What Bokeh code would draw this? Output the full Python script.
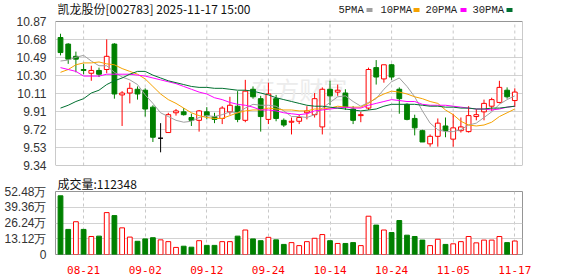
from bokeh.plotting import figure
from bokeh.layouts import column
from bokeh.models import Range1d, FixedTicker, Label, ColumnDataSource, Title, BoxAnnotation
from bokeh.core.properties import value
from bokeh.embed import file_html
from bokeh.resources import INLINE

# ---------------- data ----------------
dates = ["08-18", "08-19", "08-20", "08-21", "08-22", "08-25", "08-26", "08-27", "08-28", "08-29",
         "09-01", "09-02", "09-03", "09-04", "09-05", "09-08", "09-09", "09-10", "09-11", "09-12",
         "09-15", "09-16", "09-17", "09-18", "09-19", "09-22", "09-23", "09-24", "09-25", "09-26",
         "09-29", "09-30", "10-09", "10-10", "10-13", "10-14", "10-15", "10-16", "10-17", "10-20",
         "10-21", "10-22", "10-23", "10-24", "10-27", "10-28", "10-29", "10-30", "10-31", "11-03",
         "11-04", "11-05", "11-06", "11-07", "11-10", "11-11", "11-12", "11-13", "11-14", "11-17"]

opens = [10.70, 10.63, 10.50, 10.36, 10.32, 10.35, 10.36, 10.63, 10.09, 10.11,
         10.15, 10.14, 9.96, 9.63, 9.69, 9.90, 9.91, 9.85, 9.82, 9.91,
         9.86, 9.84, 9.91, 9.97, 9.82, 10.15, 10.05, 9.83, 10.05, 9.82,
         9.80, 9.81, 9.90, 9.88, 9.75, 10.15, 10.12, 10.11, 9.94, 9.87,
         9.95, 10.38, 10.26, 10.41, 10.15, 9.99, 9.84, 9.71, 9.57, 9.65,
         9.76, 9.62, 9.71, 9.70, 9.86, 9.91, 9.97, 10.01, 10.14, 10.03]
highs = [10.74, 10.64, 10.55, 10.42, 10.40, 10.38, 10.68, 10.64, 10.13, 10.22,
         10.18, 10.16, 9.98, 9.79, 9.90, 9.94, 9.95, 9.89, 9.93, 9.96,
         9.90, 9.97, 10.07, 10.13, 10.25, 10.18, 10.08, 10.22, 10.09, 9.84,
         9.85, 9.88, 9.97, 10.11, 10.17, 10.24, 10.20, 10.15, 9.97, 9.91,
         10.38, 10.46, 10.41, 10.42, 10.17, 10.00, 9.88, 9.72, 9.67, 9.84,
         9.85, 9.89, 9.85, 9.97, 9.94, 10.04, 10.06, 10.24, 10.17, 10.16]
lows = [10.51, 10.42, 10.33, 10.31, 10.24, 10.28, 10.32, 10.05, 9.76, 10.00,
        10.04, 9.86, 9.59, 9.48, 9.69, 9.87, 9.87, 9.76, 9.70, 9.83,
        9.79, 9.78, 9.88, 9.80, 9.80, 10.05, 9.70, 9.78, 9.81, 9.75,
        9.67, 9.78, 9.83, 9.85, 9.67, 9.98, 10.08, 9.93, 9.78, 9.80,
        9.93, 10.20, 10.22, 10.25, 9.89, 9.82, 9.66, 9.59, 9.54, 9.54,
        9.64, 9.54, 9.69, 9.69, 9.82, 9.82, 9.92, 10.00, 10.05, 9.96]
closes = [10.54, 10.47, 10.47, 10.35, 10.35, 10.31, 10.50, 10.10, 10.11, 10.16,
          10.10, 9.94, 9.64, 9.63, 9.88, 9.92, 9.88, 9.82, 9.92, 9.87,
          9.83, 9.95, 9.98, 9.83, 10.13, 10.07, 9.86, 10.10, 9.84, 9.77,
          9.81, 9.85, 9.92, 10.05, 10.15, 10.08, 10.14, 9.96, 9.82, 9.88,
          10.36, 10.28, 10.41, 10.28, 10.05, 9.83, 9.74, 9.59, 9.65, 9.79,
          9.71, 9.74, 9.75, 9.87, 9.88, 10.00, 10.04, 10.17, 10.07, 10.12]

ma5 = [10.45, 10.46, 10.49, 10.51, 10.45, 10.40, 10.40, 10.33, 10.28, 10.25,
       10.20, 10.09, 10.00, 9.90, 9.86, 9.82, 9.80, 9.81, 9.85, 9.87,
       9.86, 9.88, 9.91, 9.90, 9.95, 9.99, 9.98, 9.98, 9.97, 9.92,
       9.86, 9.86, 9.85, 9.88, 9.95, 10.01, 10.07, 10.08, 10.02, 9.97,
       10.01, 10.05, 10.15, 10.23, 10.27, 10.18, 10.07, 9.92, 9.79, 9.72,
       9.70, 9.70, 9.72, 9.77, 9.79, 9.85, 9.91, 9.99, 10.04, 10.08]
ma10 = [10.33, 10.36, 10.41, 10.43, 10.43, 10.44, 10.42, 10.41, 10.37, 10.34,
        10.31, 10.26, 10.18, 10.10, 10.04, 10.00, 9.95, 9.90, 9.87, 9.85,
        9.84, 9.84, 9.87, 9.90, 9.92, 9.93, 9.93, 9.95, 9.94, 9.93,
        9.93, 9.92, 9.92, 9.94, 9.94, 9.95, 9.97, 9.96, 9.96, 9.96,
        10.00, 10.06, 10.10, 10.13, 10.12, 10.10, 10.07, 10.05, 10.02, 10.00,
        9.93, 9.88, 9.81, 9.77, 9.76, 9.77, 9.80, 9.86, 9.90, 9.94]
ma20 = [10.38, 10.36, 10.34, 10.29, 10.29, 10.29, 10.31, 10.31, 10.31, 10.31,
        10.30, 10.29, 10.27, 10.25, 10.23, 10.21, 10.18, 10.15, 10.12, 10.10,
        10.06, 10.04, 10.01, 9.99, 9.98, 9.96, 9.93, 9.93, 9.92, 9.90,
        9.89, 9.88, 9.89, 9.92, 9.93, 9.94, 9.95, 9.96, 9.95, 9.95,
        9.98, 10.00, 10.02, 10.04, 10.03, 10.02, 10.02, 9.99, 9.98, 9.98,
        9.98, 9.97, 9.96, 9.95, 9.94, 9.94, 9.93, 9.94, 9.96, 9.97]
ma30 = [9.95, 9.98, 10.02, 10.05, 10.11, 10.14, 10.20, 10.24, 10.27, 10.31,
        10.34, 10.34, 10.30, 10.27, 10.24, 10.22, 10.20, 10.18, 10.17, 10.17,
        10.16, 10.16, 10.15, 10.14, 10.14, 10.13, 10.11, 10.09, 10.06, 10.04,
        10.02, 10.00, 9.98, 9.97, 9.97, 9.96, 9.95, 9.94, 9.93, 9.92,
        9.93, 9.94, 9.97, 9.99, 9.99, 9.99, 9.99, 9.98, 9.97, 9.97,
        9.96, 9.96, 9.95, 9.95, 9.94, 9.94, 9.95, 9.95, 9.96, 9.97]

# volume in 万 (10,000 shares)
volumes = [48.9, 20.9, 27.3, 20.9, 15.0, 15.3, 34.9, 32.4, 22.2, 14.5,
           11.0, 13.0, 14.0, 12.2, 10.7, 5.9, 6.9, 6.1, 11.5, 7.6,
           7.6, 10.7, 10.7, 15.3, 20.4, 13.0, 11.5, 14.3, 12.2, 8.4,
           9.9, 7.4, 10.7, 13.5, 16.6, 11.5, 9.2, 9.2, 9.9, 7.4,
           31.9, 24.5, 20.4, 18.3, 28.3, 16.1, 15.0, 12.0, 7.4, 12.7,
           8.4, 8.9, 10.7, 15.0, 9.7, 12.0, 12.0, 15.0, 9.9, 11.2348]
# 1 = red (up) volume bar, 0 = green (down) volume bar
vol_up = [0, 0, 1, 0, 1, 0, 1, 0, 1, 1,
          0, 0, 0, 1, 1, 1, 0, 0, 1, 0,
          0, 1, 1, 0, 1, 0, 0, 1, 0, 0,
          1, 1, 1, 1, 1, 0, 1, 0, 0, 1,
          1, 0, 1, 0, 0, 0, 0, 0, 1, 1,
          0, 1, 1, 1, 1, 1, 1, 1, 0, 1]

price_tick_labels = ["9.34", "9.53", "9.72", "9.91", "10.11", "10.30", "10.49", "10.68", "10.87"]
vol_tick_labels = ["0", "13.12万", "26.24万", "39.36万", "52.48万"]
date_tick_labels = ["08-21", "09-02", "09-12", "09-24", "10-14", "10-24", "11-05", "11-17"]

title_text = "凯龙股份[002783] 2025-11-17 15:00"
vol_title = "成交量:112348"
ma_names = ["5PMA", "10PMA", "20PMA", "30PMA"]

# ---------------- styling / layout ----------------
RED = "#ff0000"
GREEN = "#008000"
MA_COLORS = ["#a0a0a0", "#f5a200", "#ff00ff", "#007030"]
GRID = "#d2d2d2"
VGRID = "#c8c8c8"
BORDER = "#959595"
LABEL_FONT = "Liberation Sans"
CJK_FONT = "Noto Sans CJK SC"
MONO = "Liberation Mono"
W = 578
FRAME_L, FRAME_R = 55, 522     # horizontal pixel extent of the plotting frames
HEAD = 21                      # header strip (title + legend) above the price box
BOX_H = 144                    # height of the price box in pixels

P_MIN, P_MAX = 9.34, 10.87
V_MAX = 52.48
n_p = len(price_tick_labels)
price_ticks = [P_MIN + k * (P_MAX - P_MIN) / (n_p - 1) for k in range(n_p)]
n_v = len(vol_tick_labels)
vol_ticks = [k * V_MAX / (n_v - 1) for k in range(n_v)]
idx = list(range(len(dates)))
date_ticks = [dates.index(d) for d in date_tick_labels]

x_range = Range1d(-0.65, 60.0)


def style_yaxis(p, ticks, labels):
    p.yaxis.ticker = FixedTicker(ticks=ticks, minor_ticks=[])
    p.yaxis.major_label_overrides = dict(zip(ticks, labels))
    p.yaxis.axis_line_color = None
    p.yaxis.major_tick_line_color = None
    p.yaxis.minor_tick_line_color = None
    p.yaxis.major_label_standoff = 3
    p.yaxis.major_label_text_font = LABEL_FONT
    p.yaxis.major_label_text_font_size = "12px"
    p.yaxis.major_label_text_color = "#333333"
    p.ygrid.ticker = FixedTicker(ticks=ticks, minor_ticks=[])
    p.ygrid.grid_line_color = GRID


# ---------------- price panel (frame also holds the header strip) ----------------
y_top = P_MAX + HEAD * (P_MAX - P_MIN) / BOX_H
p1 = figure(width=W, height=HEAD + BOX_H + 7, x_range=x_range, y_range=Range1d(P_MIN, y_top),
            x_axis_location=None, toolbar_location=None, output_backend="svg",
            min_border_left=FRAME_L, min_border_right=W - FRAME_R, min_border_top=0,
            min_border_bottom=7)
style_yaxis(p1, price_ticks, price_tick_labels)
p1.outline_line_color = None
p1.xgrid.visible = False
p1.extra_x_ranges = {"px": Range1d(FRAME_L, FRAME_R)}
p1.extra_y_ranges = {"py": Range1d(HEAD + BOX_H, 0)}

# dashed vertical date grid, limited to the price box
p1.segment(x0=date_ticks, y0=[P_MIN] * len(date_ticks), x1=date_ticks,
           y1=[P_MAX] * len(date_ticks), line_color=VGRID, line_dash="3 3", line_width=1)

# watermark
p1.add_layout(Label(x=31, y=10.16, text="东方财富", text_font=CJK_FONT, text_font_size="24px",
                    text_color="#ececec", text_align="center", text_baseline="middle",
                    level="underlay"))

line_col, fill_col, body_top, body_bot = [], [], [], []
for o, c in zip(opens, closes):
    if c > o:
        line_col.append(RED); fill_col.append("white")
    elif c < o:
        line_col.append(GREEN); fill_col.append(GREEN)
    else:
        line_col.append("black"); fill_col.append("black")
    body_top.append(max(o, c)); body_bot.append(min(o, c))

csrc = ColumnDataSource(dict(x=idx, high=highs, low=lows, top=body_top, bottom=body_bot,
                             lc=line_col, fc=fill_col))
p1.segment(x0="x", y0="low", x1="x", y1="high", line_color="lc", line_width=1, source=csrc)
p1.vbar(x="x", width=0.62, top="top", bottom="bottom", fill_color="fc", line_color="lc",
        line_width=1, source=csrc)

for series, col in zip([ma5, ma10, ma20, ma30], MA_COLORS):
    p1.line(idx, series, line_color=col, line_width=1)

# price box outline
p1.add_layout(BoxAnnotation(bottom=P_MIN, top=P_MAX, fill_alpha=0, line_color=BORDER,
                            line_width=1, line_alpha=1))

# header: title and MA legend (pixel coordinates)
p1.text(x=[57], y=[8], text=[title_text], text_font=value(CJK_FONT), text_font_size="12px",
        text_color="#111111", text_baseline="middle", text_align="left",
        x_range_name="px", y_range_name="py")
legend_x = [338, 380, 425, 472]
swatch_x = [369, 416, 463, 509]
p1.text(x=legend_x, y=[9] * 4, text=ma_names, text_font=value(MONO),
        text_font_size="10.5px", text_color="#222222", text_baseline="middle",
        text_align="left", x_range_name="px", y_range_name="py")
p1.rect(x=swatch_x, y=[9.5] * 4, width=6, height=4, width_units="screen",
        height_units="screen", fill_color=MA_COLORS, line_color=None,
        x_range_name="px", y_range_name="py")

# ---------------- volume panel ----------------
p2 = figure(width=W, height=104, x_range=x_range, y_range=Range1d(0, V_MAX),
            toolbar_location=None, output_backend="svg",
            min_border_left=FRAME_L, min_border_right=W - FRAME_R, min_border_top=15,
            min_border_bottom=21)
style_yaxis(p2, vol_ticks, vol_tick_labels)
p2.outline_line_color = BORDER
p2.xgrid.ticker = FixedTicker(ticks=date_ticks, minor_ticks=[])
p2.xgrid.grid_line_color = VGRID
p2.xgrid.grid_line_dash = "3 3"
p2.title = Title(text=vol_title, align="left", offset=2, standoff=0,
                 text_font=CJK_FONT, text_font_size="12px", text_font_style="normal",
                 text_color="#111111")

p2.xaxis.ticker = FixedTicker(ticks=date_ticks, minor_ticks=[])
p2.xaxis.major_label_overrides = dict(zip(date_ticks, date_tick_labels))
p2.xaxis.axis_line_color = None
p2.xaxis.major_tick_line_color = None
p2.xaxis.minor_tick_line_color = None
p2.xaxis.major_label_standoff = 5
p2.xaxis.major_label_text_font = "DejaVu Sans Mono"
p2.xaxis.major_label_text_font_size = "11px"
p2.xaxis.major_label_text_color = RED

vsrc = ColumnDataSource(dict(x=idx, v=volumes,
                             lc=[RED if u else GREEN for u in vol_up],
                             fc=["white" if u else GREEN for u in vol_up]))
p2.vbar(x="x", width=0.62, top="v", bottom=0, fill_color="fc", line_color="lc",
        line_width=1, source=vsrc)

layout = column(p1, p2, spacing=0)
open("out.html", "w").write(file_html(layout, INLINE))
